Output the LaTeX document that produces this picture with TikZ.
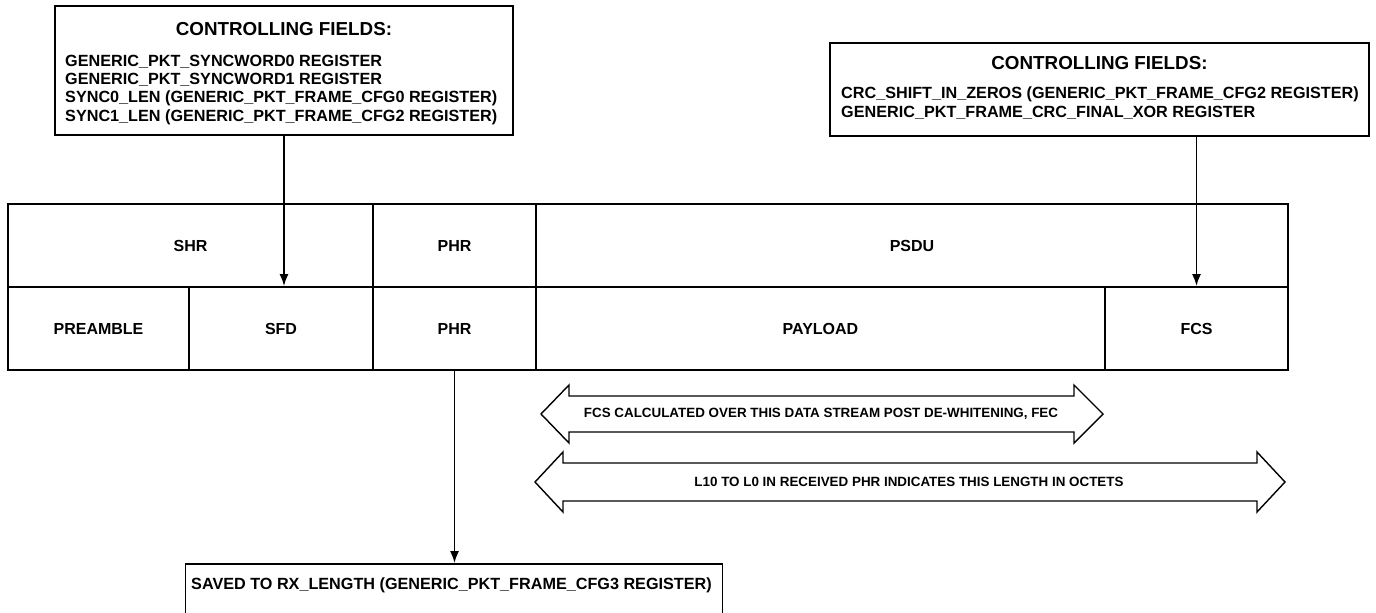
\documentclass[tikz,border=0pt]{standalone}
\usepackage{fontspec}
\setmainfont{Liberation Sans}
\usetikzlibrary{arrows.meta}
\begin{document}
\begin{tikzpicture}[x=1pt,y=-1pt,
  box/.style={draw,line width=1.8pt,inner sep=0pt},
  cell/.style={draw,line width=1.8pt,inner sep=0pt,minimum height=83pt,font=\fontsize{16}{19}\selectfont\bfseries},
  ttl/.style={inner sep=0pt,anchor=base,font=\fontsize{18.8}{22}\selectfont\bfseries},
  bodytxt/.style={inner sep=0pt,anchor=base west,font=\fontsize{16.2}{19}\selectfont\bfseries},
  atext/.style={inner sep=0pt,font=\fontsize{13.4}{16}\selectfont\bfseries},
  conn/.style={line width=1.8pt,-{Latex[length=12pt,width=9pt]}},
  dblarrow/.style={draw,line width=1.4pt,line join=miter}]
\useasboundingbox (0,0) rectangle (1376,613);

% left controlling box
\node[box,minimum width=458pt,minimum height=129pt] (lb) at (284,70.5) {};
\node[ttl] (lbt) at (284,35.7) {CONTROLLING FIELDS:};
\node[bodytxt] (lb1) at (65,66.3) {GENERIC\_PKT\_SYNCWORD0 REGISTER};
\node[bodytxt] (lb2) at (65,84.6) {GENERIC\_PKT\_SYNCWORD1 REGISTER};
\node[bodytxt] (lb3) at (65,102.8) {SYNC0\_LEN (GENERIC\_PKT\_FRAME\_CFG0 REGISTER)};
\node[bodytxt] (lb4) at (65,121.1) {SYNC1\_LEN (GENERIC\_PKT\_FRAME\_CFG2 REGISTER)};

% right controlling box
\node[box,minimum width=539pt,minimum height=93pt] (rb) at (1099.5,89.5) {};
\node[ttl] (rbt) at (1099.5,69.7) {CONTROLLING FIELDS:};
\node[bodytxt] (rb1) at (841,98.8) {CRC\_SHIFT\_IN\_ZEROS (GENERIC\_PKT\_FRAME\_CFG2 REGISTER)};
\node[bodytxt] (rb2) at (841,117.8) {GENERIC\_PKT\_FRAME\_CRC\_FINAL\_XOR REGISTER};

% frame table, top row
\node[cell,minimum width=365pt] (shr) at (190.5,245.5) {SHR};
\node[cell,minimum width=163pt] (phrT) at (454.5,245.5) {PHR};
\node[cell,minimum width=752pt] (psdu) at (912,245.5) {PSDU};
% bottom row
\node[cell,minimum width=181pt] (pre) at (98.5,328.5) {PREAMBLE};
\node[cell,minimum width=184pt] (sfd) at (281,328.5) {SFD};
\node[cell,minimum width=163pt] (phrB) at (454.5,328.5) {PHR};
\node[cell,minimum width=569pt] (pay) at (820.5,328.5) {PAYLOAD};
\node[cell,minimum width=183pt] (fcs) at (1196.5,328.5) {FCS};

% bottom box
\node[box,minimum width=537pt,minimum height=50pt] (bb) at (454,589) {};
\node[bodytxt] (bbt) at (191,589) {SAVED TO RX\_LENGTH (GENERIC\_PKT\_FRAME\_CFG3 REGISTER)};

% connectors
\draw[conn] (lb.south) -- (lb.south |- sfd.north);
\draw[conn] (fcs.north |- rb.south) -- (fcs.north);
\draw[conn] (phrB.south) -- (phrB.south |- bb.north);

% double arrows
\draw[dblarrow] (541,414) -- (569,385) -- (569,396) -- (1074,396) -- (1074,385) -- (1103,414)
  -- (1074,443) -- (1074,432) -- (569,432) -- (569,443) -- cycle;
\node[atext] (a1) at (821,414) {FCS CALCULATED OVER THIS DATA STREAM POST DE-WHITENING, FEC};
\draw[dblarrow] (535,482) -- (563,452) -- (563,463) -- (1257,463) -- (1257,452) -- (1285,482)
  -- (1257,512) -- (1257,501) -- (563,501) -- (563,512) -- cycle;
\node[atext] (a2) at (909,482) {L10 TO L0 IN RECEIVED PHR INDICATES THIS LENGTH IN OCTETS};
\end{tikzpicture}
\end{document}
